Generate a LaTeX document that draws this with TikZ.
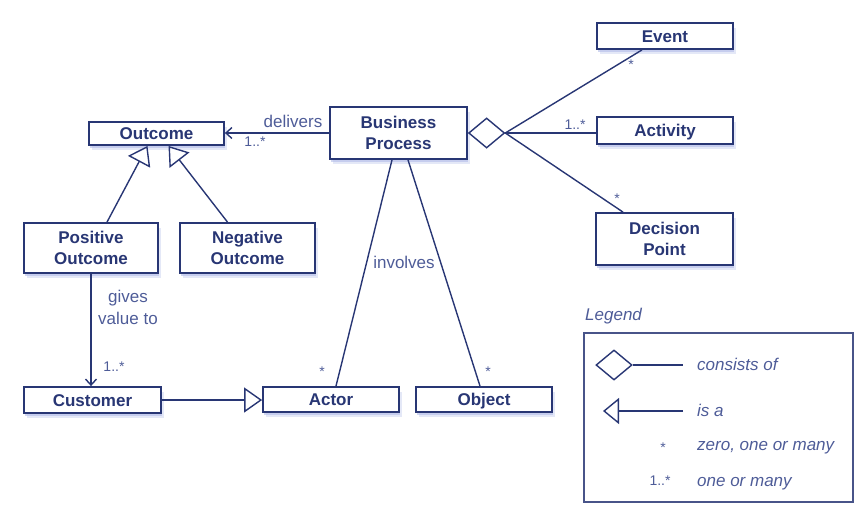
\documentclass[tikz,border=0pt]{standalone}
\usepackage{fontspec}
\setmainfont{Liberation Sans}
\usetikzlibrary{shapes.geometric,arrows.meta,shadows,calc}
\definecolor{umlnavy}{RGB}{40,54,116}
\definecolor{umllabel}{RGB}{78,92,152}
\definecolor{umlshadow}{RGB}{178,188,232}
\tikzset{
  cls/.style={draw=umlnavy, line width=1.8pt, fill=white, text=umlnavy,
    font=\fontsize{17}{21}\selectfont\bfseries, align=center, inner sep=0pt,
    minimum width=136pt,
    drop shadow={shadow xshift=2.5pt, shadow yshift=-5pt, fill=umlshadow, opacity=0.35},
    drop shadow={shadow xshift=1pt, shadow yshift=-2.5pt, fill=umlshadow, opacity=0.6}},
  oneline/.style={text height=12.5pt, text depth=0.5pt},
  link/.style={draw=umlnavy, line width=1.4pt},
  lbl/.style={text=umllabel, font=\fontsize{17}{22}\selectfont, align=center, inner sep=0pt},
  mult/.style={text=umllabel, font=\fontsize{14}{16}\selectfont, inner sep=0pt},
  isa/.style={-{Triangle[open, length=18pt, width=25pt, fill=white]}},
  nav/.style={-{Straight Barb[length=6pt, width=11pt]}},
  agg/.style={diamond, draw=umlnavy, line width=1.4pt, fill=white,
    minimum width=36pt, minimum height=30pt, inner sep=0pt},
  legtext/.style={text=umllabel, font=\fontsize{17}{22}\selectfont\itshape,
    inner sep=0pt, anchor=west, text height=12.5pt, text depth=1.5pt},
  legbox/.style={draw=umlnavy!85, line width=1.3pt, minimum width=269pt,
    minimum height=169pt, inner sep=0pt},
}
\begin{document}
\begin{tikzpicture}[x=1pt, y=-1pt]
\useasboundingbox (0,0) rectangle (866,504);

% classes
\node[cls, oneline, minimum height=26pt] (ev)  at (665,36)    {Event};
\node[cls, oneline, minimum height=27pt] (act) at (665,130.5) {Activity};
\node[cls, minimum width=137pt, minimum height=52pt] (dp) at (664.5,239) {Decision\\Point};
\node[cls, minimum width=137pt, minimum height=52pt] (bp) at (398.5,133) {Business\\Process};
\node[cls, oneline, minimum width=135pt, minimum height=23pt] (oc) at (156.5,133.5) {Outcome};
\node[cls, minimum width=134pt, minimum height=50pt] (po) at (91,248) {Positive\\Outcome};
\node[cls, minimum width=135pt, minimum height=50pt] (no) at (247.5,248) {Negative\\Outcome};
\node[cls, oneline, minimum width=137pt, minimum height=26pt] (cu) at (92.5,400) {Customer};
\node[cls, oneline, minimum height=25pt] (ac) at (331,399.5) {Actor};
\node[cls, oneline, minimum height=25pt] (ob) at (484,399.5) {Object};

% aggregation diamond of the business process
\node[agg, anchor=west] (dm) at (bp.east) {};

% associations
\draw[link, nav] (bp.west) -- (bp.west -| oc.east);
\draw[link] (dm.east) -- ([xshift=-23pt]ev.south);
\draw[link] (dm.east) -- (dm.east -| act.west);
\draw[link] (dm.east) -- ([xshift=-41.5pt]dp.north);
\draw[link] ([xshift=-6.5pt]bp.south) -- ([xshift=5pt]ac.north);
\draw[link] ([xshift=9.5pt]bp.south) -- ([xshift=-4pt]ob.north);
\draw[link, nav] (po.south) -- (po.south |- cu.north);

% generalizations
\draw[link, isa] ([xshift=16pt]po.north) -- ([xshift=-9pt]oc.south);
\draw[link, isa] ([xshift=-20pt]no.north) -- ([xshift=12pt]oc.south);
\draw[link, isa] (cu.east) -- (cu.east -| ac.west);

% association labels and multiplicities
\node[lbl] (delivers) at (293,121) {delivers};
\node[mult] (mdeliv) at (255,142) {1..*};
\node[lbl] (gives) at (128,307.5) {gives\\value to};
\node[mult] (mcust) at (114,367) {1..*};
\node[lbl] (involves) at (404,262) {involves};
\node[mult] (mactor) at (322,372) {*};
\node[mult] (mobject) at (488,372) {*};
\node[mult] (mevent) at (631,65) {*};
\node[mult] (mact) at (575,125) {1..*};
\node[mult] (mdec) at (617,199) {*};

% legend
\node[legtext] (legtitle) at (585,315) {Legend};
\node[legbox] (leg) at (718.5,417.5) {};
\node[agg] (ldm) at (614,365) {};
\coordinate (ldmend) at (683,365);
\draw[link] (ldm.east) -- (ldmend);
\node[legtext] (lcons) at (697,365) {consists of};
\coordinate (lisastart) at (683,411);
\coordinate (lisatip) at (603,411);
\draw[link, -{Triangle[open, length=16pt, width=26pt, fill=white]}] (lisastart) -- (lisatip);
\node[legtext] (lisa) at (697,411) {is a};
\node[mult] (lstar) at (663,448) {*};
\node[legtext] (lzero) at (697,445) {zero, one or many};
\node[mult] (lone) at (660,481) {1..*};
\node[legtext] (lmany) at (697,481) {one or many};
\end{tikzpicture}
\end{document}
